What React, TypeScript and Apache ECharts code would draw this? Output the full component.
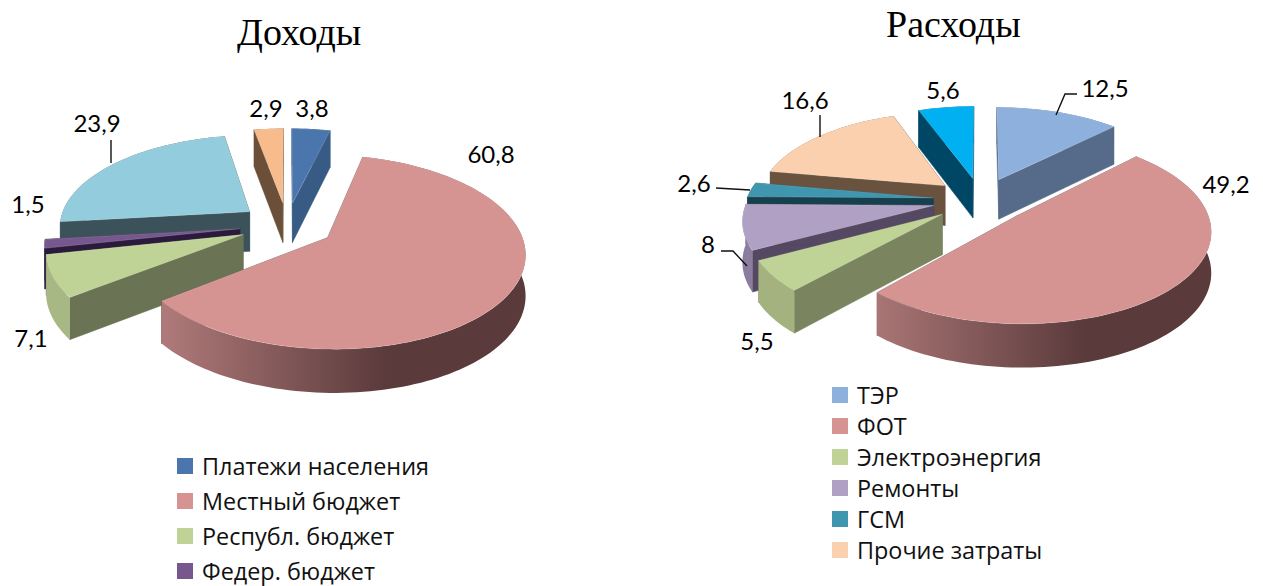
import React, { useEffect, useRef } from "react";
import * as echarts from "echarts";

const incomeCategories = ["Платежи населения", "Местный бюджет", "Республ. бюджет", "Федер. бюджет", "", ""];
const incomeValues = [3.8, 60.8, 7.1, 1.5, 23.9, 2.9];
const expenseCategories = ["ТЭР", "ФОТ", "Электроэнергия", "Ремонты", "ГСМ", "Прочие затраты", ""];
const expenseValues = [12.5, 49.2, 5.5, 8, 2.6, 16.6, 5.6];

const incomeTop = ["#4a76ad", "#d59392", "#c0d396", "#76578e", "#93cddd", "#f7bb8c"];
const incomeSide = ["#375b85", "#5a3a3b", "#6b7355", "#2a1b3d", "#3c525a", "#6b4f38"];
const incomeOuter = ["#375b85", "#b07a7a", "#a8b884", "#2a1b3d", "#3c525a", "#6b4f38"];
const expenseTop = ["#8db0dd", "#d59392", "#c0d396", "#afa0c4", "#3f96af", "#fad0ae", "#00b0f0"];
const expenseSide = ["#566b89", "#5a3a3b", "#7a8560", "#544862", "#17404f", "#69533f", "#004766"];
const expenseOuter = ["#566b89", "#a97575", "#a3b27f", "#8a7da0", "#17404f", "#69533f", "#004766"];

const incomeLabels = [[312, 107], [491, 153], [31, 337], [28, 203], [97, 122], [266, 107]];
const expenseLabels = [[1105, 87], [1226, 183], [757, 340], [708, 243], [694, 182], [805, 99], [943, 89]];
const incomeLeaders: (number[][] | null)[] = [null, null, null, null, [[111, 140], [111, 163]], null];
const expenseLeaders: (number[][] | null)[] = [
  [[1077, 94], [1065, 94], [1056, 115]], null, null,
  [[721, 251], [733, 251], [747, 266]],
  [[716, 188], [750, 190]],
  [[820, 115], [820, 137]], null,
];

type PieCfg = {
  values: number[]; categories: string[]; top: string[]; side: string[]; outer: string[];
  labels: number[][]; leaders: (number[][] | null)[];
  cx: number; cy: number; R: number; e: number; q: number; k: number; d: number;
};

const incomePie: PieCfg = {
  values: incomeValues, categories: incomeCategories, top: incomeTop, side: incomeSide, outer: incomeOuter,
  labels: incomeLabels, leaders: incomeLeaders,
  cx: 287, cy: 225, R: 191, e: 47.5, q: 0.478, k: 0.145, d: 40,
};
const expensePie: PieCfg = {
  values: expenseValues, categories: expenseCategories, top: expenseTop, side: expenseSide, outer: expenseOuter,
  labels: expenseLabels, leaders: expenseLeaders,
  cx: 981, cy: 200, R: 187, e: 48, q: 0.47, k: 0.14, d: 40,
};

function buildSeries(p: PieCfg, baseZ: number) {
  const total = p.values.reduce((a, b) => a + b, 0);
  const spans: { a0: number; a1: number; mid: number }[] = [];
  let acc = 0;
  p.values.forEach((v) => {
    const a0 = (acc / total) * Math.PI * 2;
    acc += v;
    const a1 = (acc / total) * Math.PI * 2;
    spans.push({ a0, a1, mid: (a0 + a1) / 2 });
  });
  const order = p.values.map((_, i) => i).sort((a, b) => -Math.cos(spans[a].mid) + Math.cos(spans[b].mid));

  return order.map((i, rank) => {
    const { mid } = spans[i];
    const ox = p.e * Math.sin(mid);
    const oy = -p.e * Math.cos(mid);
    const project = (U: number, V: number, lower: boolean) => {
      const s = 1 / (1 - (p.k * V) / p.R);
      const y = p.cy + p.q * V * s;
      return [p.cx + U * s, lower ? y + p.d * Math.sqrt(s) : y];
    };
    const rim = (t: number, lower: boolean) =>
      project(ox + p.R * Math.sin(t), oy - p.R * Math.cos(t), lower);

    return {
      type: "custom",
      name: p.categories[i] || undefined,
      coordinateSystem: "none",
      silent: true,
      z: baseZ + rank,
      itemStyle: { color: p.top[i] },
      data: [{ value: [p.values[i]] }],
      renderItem: (_: any, api: any) => {
        const value = api.value(0) as number;
        const a0 = spans[i].a0;
        const a1 = a0 + (value / total) * Math.PI * 2;
        const steps = Math.max(2, Math.ceil((a1 - a0) / 0.03));
        const angles: number[] = [];
        for (let n = 0; n <= steps; n++) angles.push(a0 + ((a1 - a0) * n) / steps);
        const apexTop = project(ox, oy, false);
        const apexLow = project(ox, oy, true);
        const arcTop = angles.map((t) => rim(t, false));
        const arcLow = angles.map((t) => rim(t, true));
        const big = value > 40;
        const outerFill: any = big
          ? {
              type: "linear", x: 0, y: 0, x2: 1, y2: 0,
              colorStops: [
                { offset: 0, color: p.outer[i] },
                { offset: 0.62, color: p.side[i] },
                { offset: 1, color: p.side[i] },
              ],
            }
          : p.outer[i];
        const wallStyle = { fill: p.side[i], stroke: p.side[i], lineWidth: 0.5 };
        const walls: any[] = [
          { type: "polygon", shape: { points: [apexTop, arcTop[0], arcLow[0], apexLow] }, style: wallStyle },
          { type: "polygon", shape: { points: [apexTop, arcTop[steps], arcLow[steps], apexLow] }, style: wallStyle },
          {
            type: "polygon",
            shape: { points: [...arcTop, ...arcLow.slice().reverse()] },
            style: { fill: outerFill, stroke: "none" },
          },
        ];
        const children: any[] = [
          ...walls,
          {
            type: "polygon",
            shape: { points: [apexTop, ...arcTop] },
            style: { fill: p.top[i], stroke: "rgba(255,255,255,0.2)", lineWidth: 0.8 },
          },
        ];
        const leader = p.leaders[i];
        if (leader) {
          children.push({
            type: "polyline",
            shape: { points: leader },
            style: { fill: "none", stroke: "#111", lineWidth: 1.4 },
          });
        }
        children.push({
          type: "text",
          x: p.labels[i][0],
          y: p.labels[i][1],
          style: {
            text: String(value).replace(".", ","),
            fontSize: 24,
            fontFamily: "Lato, 'Open Sans', sans-serif",
            fill: "#000",
            align: "center",
            verticalAlign: "middle",
          },
        });
        return { type: "group", children };
      },
    };
  });
}

const legendFont = { fontSize: 23.4, fontFamily: "'Open Sans', sans-serif", color: "#111", padding: [0, 0, 0, 4] };
const titleStyle = { fontFamily: "'Liberation Serif', serif", fontWeight: "normal", fontSize: 38, color: "#000" };

export default function App() {
  const ref = useRef<HTMLDivElement>(null);
  useEffect(() => {
    document.body.style.margin = "0";
    const chart = echarts.init(ref.current!, undefined, { renderer: "svg" });
    chart.setOption({
      animation: false,
      backgroundColor: "#fff",
      title: [
        { text: "Доходы", left: 232, top: 8, textStyle: titleStyle },
        { text: "Расходы", left: 881, top: 0, textStyle: titleStyle },
      ],
      legend: [
        {
          orient: "vertical", left: 172, top: 446, height: 140, itemWidth: 16, itemHeight: 16, itemGap: 5,
          selectedMode: false, icon: "rect", textStyle: { ...legendFont, lineHeight: 30, height: 30 },
          data: incomeCategories.filter(Boolean),
        },
        {
          orient: "vertical", left: 827, top: 375, height: 205, itemWidth: 16, itemHeight: 16, itemGap: 1,
          selectedMode: false, icon: "rect", textStyle: { ...legendFont, lineHeight: 30, height: 30 },
          data: expenseCategories.filter(Boolean),
        },
      ],
      series: [...buildSeries(incomePie, 1), ...buildSeries(expensePie, 1)],
    });
    return () => chart.dispose();
  }, []);
  return <div ref={ref} style={{ position: "absolute", left: 0, top: 0, width: 1263, height: 586 }} />;
}
